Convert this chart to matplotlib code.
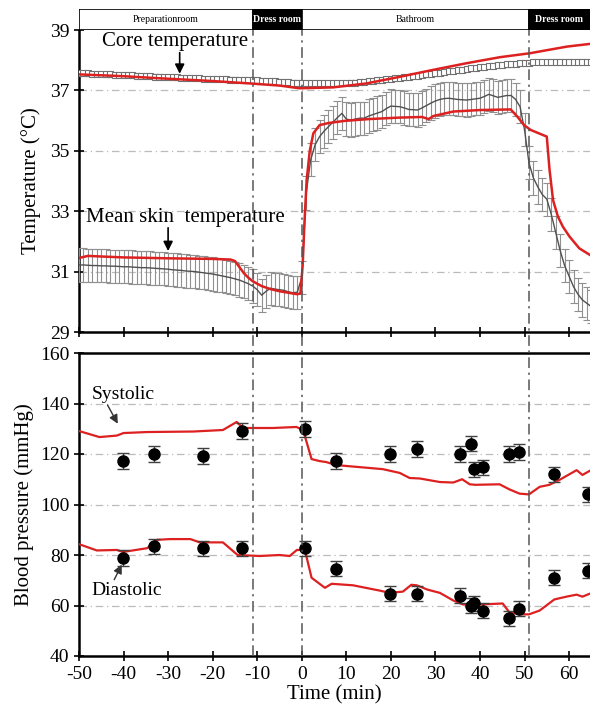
import numpy as np
import matplotlib
matplotlib.use("Agg")
import matplotlib.pyplot as plt
from matplotlib.patches import Rectangle
from matplotlib.lines import Line2D
from matplotlib.transforms import blended_transform_factory

plt.rcParams['font.family'] = ['Liberation Serif', 'DejaVu Serif']
plt.rcParams['axes.unicode_minus'] = False

# ---------------- data ----------------
minutes = np.arange(-50, 66)

core_obs = [37.57, 37.56, 37.56, 37.55, 37.55, 37.54, 37.53, 37.53, 37.52, 37.51,
            37.51, 37.50, 37.50, 37.49, 37.48, 37.48, 37.47, 37.46, 37.46, 37.45,
            37.44, 37.44, 37.43, 37.42, 37.42, 37.41, 37.40, 37.40, 37.39, 37.39,
            37.38, 37.38, 37.37, 37.37, 37.36, 37.36, 37.35, 37.35, 37.34, 37.34,
            37.33, 37.32, 37.31, 37.31, 37.30, 37.29, 37.28, 37.27, 37.26, 37.26,
            37.25, 37.25, 37.24, 37.24, 37.23, 37.23, 37.23, 37.23, 37.24, 37.24,
            37.25, 37.26, 37.26, 37.27, 37.28, 37.30, 37.31, 37.33, 37.35, 37.37,
            37.38, 37.40, 37.41, 37.43, 37.45, 37.47, 37.49, 37.51, 37.53, 37.55,
            37.57, 37.59, 37.61, 37.63, 37.65, 37.67, 37.69, 37.71, 37.73, 37.75,
            37.77, 37.78, 37.80, 37.81, 37.83, 37.84, 37.86, 37.87, 37.88, 37.90,
            37.91, 37.92, 37.93, 37.93, 37.94, 37.94, 37.94, 37.94, 37.95, 37.95,
            37.95, 37.95, 37.95, 37.95, 37.95, 37.95]
core_err = 0.07

skin_obs = [31.22, 31.22, 31.21, 31.20, 31.20, 31.19, 31.19, 31.18, 31.18, 31.17,
            31.16, 31.16, 31.15, 31.14, 31.13, 31.13, 31.12, 31.11, 31.10, 31.09,
            31.08, 31.06, 31.05, 31.04, 31.02, 31.01, 31.00, 30.98, 30.96, 30.94,
            30.92, 30.89, 30.86, 30.83, 30.80, 30.76, 30.72, 30.66, 30.60, 30.52,
            30.40, 30.22, 30.35, 30.45, 30.42, 30.40, 30.38, 30.33, 30.30, 30.32,
            30.80, 33.60, 34.70, 35.20, 35.47, 35.65, 35.80, 35.95, 36.10, 36.24,
            36.05, 36.02, 36.05, 36.08, 36.08, 36.15, 36.20, 36.25, 36.30, 36.40,
            36.48, 36.47, 36.46, 36.42, 36.37, 36.36, 36.35, 36.42, 36.50, 36.58,
            36.65, 36.70, 36.73, 36.74, 36.72, 36.70, 36.69, 36.68, 36.70, 36.72,
            36.74, 36.80, 36.87, 36.82, 36.77, 36.80, 36.83, 36.83, 36.70, 36.46,
            35.70, 34.60, 34.10, 33.80, 33.55, 33.40, 32.90, 32.30, 31.70, 31.20,
            30.85, 30.50, 30.25, 30.06, 29.95, 29.84]
skin_err = 0.55

core_model_t = [-50, -40, -31.8, -20, -11.6, -5, -0.5, 7, 14.5, 22, 29.5, 37, 44.5, 51.2, 59.5, 64.7]
core_model_v = [37.53, 37.47, 37.40, 37.31, 37.23, 37.16, 37.07, 37.10, 37.23, 37.45, 37.68, 37.90, 38.10, 38.23, 38.45, 38.54]

skin_model_t = [-50, -48, -45, -40, -30, -20, -16, -15, -14, -13, -12, -11, -9, -7, -5, -3, -1, -0.3,
                0.2, 0.6, 1.1, 1.8, 2.6, 4.0, 6, 9.6, 15, 22, 27, 28.5, 29.5, 34, 40, 46.9,
                48.4, 49.9, 51.4, 55, 55.6, 56.4, 57.5, 58.6, 60.1, 62.3, 64.7]
skin_model_v = [31.45, 31.52, 31.50, 31.47, 31.44, 31.42, 31.40, 31.35, 31.15, 30.95, 30.80, 30.68,
                30.52, 30.42, 30.35, 30.30, 30.25, 30.28,
                31.2, 32.6, 34.03, 35.0, 35.58, 35.85, 35.92, 35.99, 36.05, 36.10, 36.12, 36.05, 36.15,
                36.30, 36.35, 36.37, 36.13, 35.85, 35.69, 35.47, 34.40, 33.37, 32.82, 32.49, 32.16,
                31.77, 31.55]

bp_t = [-40.1, -33.2, -22.2, -13.4, 0.7, 7.7, 19.7, 25.8, 35.6, 37.9, 38.7, 40.6, 46.6, 48.7, 56.7, 64.3]
sys_obs = [117.2, 120.0, 119.2, 129.1, 129.9, 117.2, 120.0, 122.0, 120.0, 124.0, 114.0, 114.8,
           120.0, 120.8, 112.0, 104.0]
dia_obs = [78.8, 83.5, 82.7, 82.7, 82.7, 74.5, 64.7, 64.7, 63.9, 60.0, 60.8, 58.0, 54.9, 58.8, 71.0, 73.7]
bp_err = 3.0

sys_model_t = [-50, -45.4, -41.5, -40, -34.7, -24.4, -17.7, -14.6, -13.2, -11.4, -6.5, -1.2, 0.3,
               2.2, 4, 5.5, 7.8, 18.2, 22, 24.2, 26.5, 31, 34, 36, 37.7, 39, 44.4, 46.6, 48.9, 51,
               53.4, 55.6, 57.8, 61.7, 63, 64.7]
sys_model_v = [129.1, 126.7, 127.3, 128.3, 128.7, 128.9, 129.5, 132.7, 130.3, 130.3, 130.3, 130.7, 129.5,
               118.0, 117.2, 116.8, 115.6, 114.0, 112.5, 110.5, 110.3, 108.9, 108.7, 110.0, 108.0, 107.8,
               108.0, 106.0, 104.3, 104.0, 107.0, 107.8, 109.7, 113.6, 111.7, 113.4]

dia_model_t = [-50, -46, -41.5, -40.1, -34.7, -32.5, -29.6, -25, -22.9, -17.7, -14.4, -9.4, -5, -2.7,
               -1.1, 0.7, 2.2, 5.2, 6.7, 11.5, 17.5, 19.7, 22.7, 24.6, 25.8, 28.2, 31, 34, 36.2, 40,
               45.1, 46.6, 48.9, 51, 53.4, 56.7, 59.4, 61.7, 63, 64.7]
dia_model_v = [84.3, 81.8, 82.0, 81.2, 82.7, 86.0, 86.3, 86.3, 85.0, 85.0, 80.0, 79.6, 80.0, 79.6,
               82.0, 82.0, 71.0, 67.0, 68.6, 68.0, 65.9, 65.0, 65.5, 68.2, 68.0, 66.3, 65.0, 62.0, 60.4,
               60.4, 60.8, 57.3, 56.5, 56.5, 58.0, 62.4, 63.5, 64.3, 63.5, 64.7]

room_names = ['Preparationroom', 'Dress room', 'Bathroom', 'Dress room']
room_start = [-50, -11, 0, 51]
room_end = [-11, 0, 51, 70]
room_dark = [False, True, False, True]

# ---------------- figure ----------------
W, H = 590, 712
fig = plt.figure(figsize=(W / 100, H / 100), dpi=100)
left = 79 / W
xmin, xmax = -50, 64.7
red = '#dd2020'
gray = '#707070'

ax1 = fig.add_axes([left, 1 - 332 / H, 1 - left, (332 - 30) / H])
ax2 = fig.add_axes([left, 1 - 656 / H, 1 - left, (656 - 353) / H])
axh = fig.add_axes([left, 1 - 30 / H, 1 - left, 21 / H])

grid_kw = dict(color='#bbbbbb', linestyle=(0, (6, 3, 1, 3)), linewidth=0.9)
arrow_kw = dict(arrowstyle='-|>', color='black', lw=1.2, shrinkA=0, shrinkB=0, mutation_scale=14)

# top panel
ax1.errorbar(minutes, core_obs, yerr=core_err, color=gray, lw=1.0, marker='s', ms=4,
             mfc='white', mec=gray, mew=0.8, ecolor=gray, elinewidth=0.8, capsize=2, zorder=3)
ax1.errorbar(minutes, skin_obs, yerr=skin_err, color='#505050', lw=1.0, ecolor='#909090',
             elinewidth=0.8, capsize=3, capthick=0.8, zorder=3)
ax1.plot(core_model_t, core_model_v, color=red, lw=1.8, zorder=4)
ax1.plot(skin_model_t, skin_model_v, color=red, lw=1.8, zorder=4)
ax1.set_xlim(xmin, xmax)
ax1.set_ylim(29, 39)
ax1.set_yticks([29, 31, 33, 35, 37, 39])
for v in [31, 33, 35, 37]:
    ax1.axhline(v, **grid_kw, zorder=1)
ax1.set_xticks(np.arange(-50, 61, 10))
ax1.tick_params(axis='x', labelbottom=False, direction='inout', length=7, width=1.2)
ax1.tick_params(axis='y', labelsize=14, direction='inout', length=7, width=1.2)
ax1.set_ylabel('Temperature (°C)', fontsize=15, labelpad=6)
ax1.spines['right'].set_visible(False)
ax1.spines['top'].set_visible(False)
for s in ['left', 'bottom']:
    ax1.spines[s].set_linewidth(1.8)

ax1.text(-28.5, 38.62, 'Core temperature', ha='center', va='center', fontsize=15)
ax1.annotate('', xy=(-27.4, 37.55), xytext=(-27.4, 38.25), arrowprops=arrow_kw)
ax1.text(-26.2, 32.8, 'Mean skin  temperature', ha='center', va='center', fontsize=15)
ax1.annotate('', xy=(-30.0, 31.68), xytext=(-30.0, 32.45), arrowprops=arrow_kw)

# bottom panel
ax2.errorbar(bp_t, sys_obs, yerr=bp_err, fmt='o', color='black', ms=8, ecolor='#404040',
             elinewidth=1.0, capsize=4, capthick=1.0, zorder=4)
ax2.errorbar(bp_t, dia_obs, yerr=bp_err, fmt='o', color='black', ms=8, ecolor='#404040',
             elinewidth=1.0, capsize=4, capthick=1.0, zorder=4)
ax2.plot(sys_model_t, sys_model_v, color=red, lw=1.6, zorder=3)
ax2.plot(dia_model_t, dia_model_v, color=red, lw=1.6, zorder=3)
ax2.set_xlim(xmin, xmax)
ax2.set_ylim(40, 160)
ax2.set_yticks(np.arange(40, 161, 20))
for v in [60, 80, 100, 120, 140]:
    ax2.axhline(v, **grid_kw, zorder=1)
ax2.set_xticks(np.arange(-50, 61, 10))
ax2.tick_params(axis='both', labelsize=14, direction='inout', length=7, width=1.2)
ax2.set_xlabel('Time (min)', fontsize=15, labelpad=2)
ax2.set_ylabel('Blood pressure (mmHg)', fontsize=15, labelpad=4)
ax2.spines['right'].set_visible(False)
for s in ['left', 'bottom', 'top']:
    ax2.spines[s].set_linewidth(1.8)

ax2.text(-40.1, 143.4, 'Systolic', ha='center', va='center', fontsize=14)
ax2.annotate('', xy=(-41.3, 132.0), xytext=(-43.6, 139.4),
             arrowprops=dict(arrowstyle='-|>', color='#333333', lw=1.0, shrinkA=0, shrinkB=0,
                             mutation_scale=13))
ax2.text(-39.2, 65.9, 'Diastolic', ha='center', va='center', fontsize=14)
ax2.annotate('', xy=(-40.4, 76.2), xytext=(-42.1, 70.2),
             arrowprops=dict(arrowstyle='-|>', color='#333333', lw=1.0, shrinkA=0, shrinkB=0,
                             mutation_scale=13))

# header band
axh.set_xlim(xmin, xmax)
axh.set_ylim(0, 1)
axh.axis('off')
for name, a, b, dark in zip(room_names, room_start, room_end, room_dark):
    axh.add_patch(Rectangle((a, 0), b - a, 1, facecolor='black' if dark else 'white',
                            edgecolor='black', lw=1.2, clip_on=True))
    axh.text((a + min(b, xmax)) / 2, 0.5, name,
             ha='center', va='center', fontsize=7,
             color='white' if dark else 'black', fontweight='bold' if dark else 'normal')

# vertical dash-dot dividers across both panels
trans = blended_transform_factory(ax2.transData, fig.transFigure)
for x in room_start[1:]:
    fig.add_artist(Line2D([x, x], [1 - 656 / H, 1 - 30 / H], transform=trans,
                          color='#555555', lw=1.1, linestyle=(0, (7, 3, 1.5, 3)), zorder=2))

fig.savefig('out.png', dpi=100)
